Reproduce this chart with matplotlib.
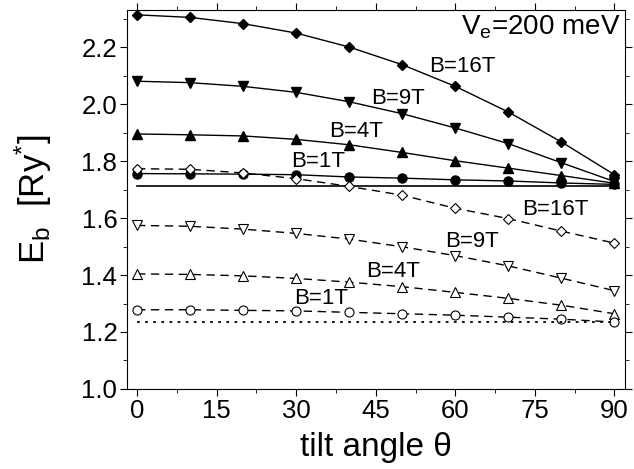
import numpy as np
import matplotlib.pyplot as plt
from matplotlib.ticker import MultipleLocator

plt.rcParams['font.family'] = ['Liberation Sans', 'DejaVu Sans']
plt.rcParams['mathtext.fontset'] = 'custom'
plt.rcParams['mathtext.rm'] = 'Liberation Sans'
plt.rcParams['mathtext.it'] = 'Liberation Sans'

# tilt angle in degrees
theta = [0, 10, 20, 30, 40, 50, 60, 70, 80, 90]

# filled symbols, solid lines
b16_full = [2.313, 2.304, 2.282, 2.249, 2.200, 2.138, 2.062, 1.972, 1.867, 1.752]
b9_full = [2.080, 2.075, 2.062, 2.041, 2.008, 1.966, 1.916, 1.861, 1.794, 1.728]
b4_full = [1.895, 1.892, 1.888, 1.876, 1.857, 1.830, 1.801, 1.775, 1.749, 1.722]
b1_full = [1.756, 1.755, 1.754, 1.752, 1.744, 1.740, 1.734, 1.730, 1.723, 1.718]
b0_full = 1.714

# open symbols, dashed lines
b16_open = [1.773, 1.771, 1.758, 1.738, 1.711, 1.680, 1.634, 1.598, 1.554, 1.512]
b9_open = [1.574, 1.571, 1.561, 1.546, 1.526, 1.499, 1.468, 1.432, 1.389, 1.345]
b4_open = [1.404, 1.402, 1.397, 1.388, 1.375, 1.359, 1.339, 1.318, 1.294, 1.264]
b1_open = [1.278, 1.278, 1.276, 1.274, 1.269, 1.264, 1.259, 1.252, 1.245, 1.235]
b0_open = 1.236

fig = plt.figure(figsize=(6.34, 4.69), dpi=100)
ax = fig.add_axes([0.2003, 0.1706, 0.7855, 0.8081])

ms = 6.5
ax.plot(theta, b16_full, 'k-', marker='D', ms=ms - 1, lw=1)
ax.plot(theta, b9_full, 'k-', marker='v', ms=ms, lw=1)
ax.plot(theta, b4_full, 'k-', marker='^', ms=ms, lw=1)
ax.plot(theta, b1_full, 'k-', marker='o', ms=ms, lw=1)
ax.plot([0, 90], [b0_full, b0_full], 'k-', lw=1.2)

dash = (0, (6, 4))
ax.plot(theta, b16_open, color='k', ls=dash, marker='D', ms=ms - 1, mfc='white', lw=1, mew=0.8)
ax.plot(theta, b9_open, color='k', ls=dash, marker='v', ms=ms, mfc='white', lw=1, mew=0.8)
ax.plot(theta, b4_open, color='k', ls=dash, marker='^', ms=ms, mfc='white', lw=1, mew=0.8)
ax.plot(theta, b1_open, color='k', ls=dash, marker='o', ms=ms, mfc='white', lw=1, mew=0.8)
ax.plot([0, 90], [b0_open, b0_open], color='k', ls=(0, (1.5, 3)), lw=1.3)

fs = 16
ax.text(55, 2.133, 'B=16T', fontsize=fs, va='center')
ax.text(44.2, 2.021, 'B=9T', fontsize=fs, va='center')
ax.text(36.3, 1.905, 'B=4T', fontsize=fs, va='center')
ax.text(29.1, 1.80, 'B=1T', fontsize=fs, va='center')
ax.text(72.6, 1.629, 'B=16T', fontsize=fs, va='center')
ax.text(58.1, 1.518, 'B=9T', fontsize=fs, va='center')
ax.text(43.2, 1.411, 'B=4T', fontsize=fs, va='center')
ax.text(29.7, 1.317, 'B=1T', fontsize=fs, va='center')
ax.text(61.0, 2.27, 'V$_{\\rm e}$=200 meV', fontsize=20, va='center')

ax.set_xlim(-1.9, 92)
ax.set_ylim(1.0, 2.33)
ax.xaxis.set_major_locator(MultipleLocator(15))
ax.xaxis.set_minor_locator(MultipleLocator(7.5))
ax.yaxis.set_major_locator(MultipleLocator(0.2))
ax.yaxis.set_minor_locator(MultipleLocator(0.1))
ax.yaxis.set_major_formatter(plt.FormatStrFormatter('%.1f'))
ax.tick_params(which='both', direction='out', top=True, right=True, labelsize=18.5)
ax.tick_params(which='major', length=5, pad=2)
ax.tick_params(which='minor', length=3)

ax.set_xlabel('tilt angle θ', fontsize=24, labelpad=7)
ax.set_ylabel('E$_{\\rm b}$  [Ry$^{*}$]', fontsize=25, labelpad=20)

fig.savefig('out.png', dpi=100)
